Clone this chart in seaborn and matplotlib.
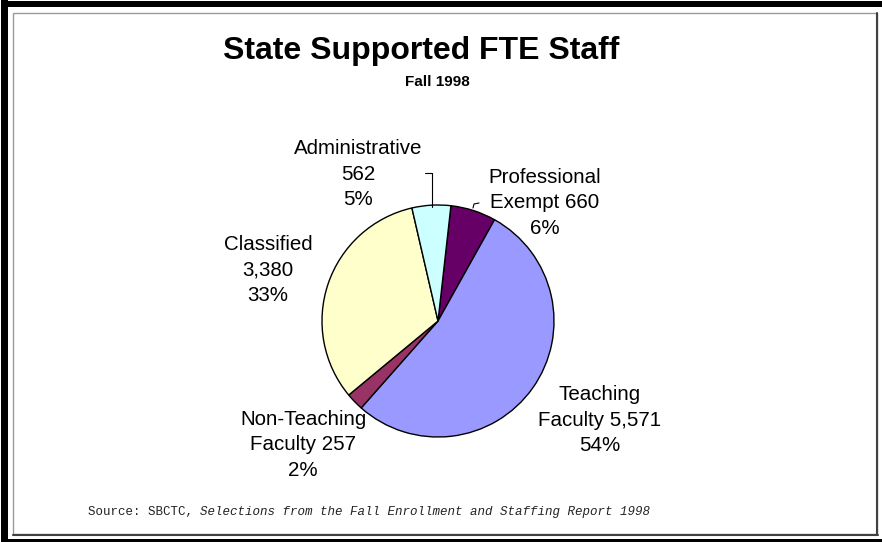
import matplotlib
matplotlib.use("Agg")
import matplotlib.pyplot as plt
from matplotlib.patches import Rectangle
import seaborn as sns

# data (clockwise from the top)
names = ["Professional\nExempt", "Teaching\nFaculty", "Non-Teaching\nFaculty", "Classified", "Administrative"]
staff = [660, 5571, 257, 3380, 562]
pcts = [6, 54, 2, 33, 5]
colors = ["#660066", "#9999FF", "#993366", "#FFFFCC", "#CCFFFF"]

W, H = 882, 542

sns.set_style("white")
plt.rcParams['font.family'] = ['Liberation Sans', 'DejaVu Sans']
plt.rcParams['text.color'] = 'black'

fig = plt.figure(figsize=(W / 100, H / 100), dpi=100)
ax = fig.add_axes([0, 0, 1, 1])

cx, cy, r = 438, H - 321, 116
wedges, _ = ax.pie(staff, colors=sns.color_palette(colors), startangle=83.6, counterclock=False,
                   radius=r, center=(cx, cy),
                   wedgeprops=dict(edgecolor="black", linewidth=1.0))
ax.set_xlim(0, W)
ax.set_ylim(0, H)
ax.set_axis_off()

# label text + where excel put it (pixel centre, y from top)
seps = [" ", " ", " ", "\n", "\n"]
label_pos = [(545, 203), (600, 420), (303, 445), (268, 270), (358, 174)]
for name, v, p, s, (lx, ly) in zip(names, staff, pcts, seps, label_pos):
    ax.text(lx, H - ly, f"{name}{s}{v:,}\n{p}%", ha="center", va="center",
            fontsize=14.8, linespacing=1.42, color="black")

# leader lines for the two small slices
ax.plot([425, 432, 432], [H - 173, H - 173, H - 207], color="black", lw=0.8)
ax.plot([473, 474, 479], [H - 208, H - 204, H - 203], color="black", lw=0.8)

# titles
ax.text(421, H - 59, "State Supported FTE Staff", ha="center", va="baseline",
        fontsize=23, fontweight="bold", color="black")
ax.text(437, H - 82, "Fall 1998", ha="center", va="center",
        fontsize=11, fontweight="bold", color="black")

# source note
t1 = ax.text(88, H - 512, "Source: SBCTC, ", ha="left", va="center",
             fontsize=9, family="Liberation Mono", color="#222222")
ax.annotate("Selections from the Fall Enrollment and Staffing Report 1998", xy=(1, 0),
            xycoords=t1, ha="left", va="bottom", fontsize=9, family="Liberation Mono",
            style="italic", color="#222222")

# chart frame
ax.add_patch(Rectangle((1, 0), 7, H, color="black", lw=0, clip_on=False))
ax.add_patch(Rectangle((1, H - 7), W - 1, 6, color="black", lw=0, clip_on=False))
ax.add_patch(Rectangle((1, 0), W - 1, 3, color="black", lw=0, clip_on=False))
ax.add_patch(Rectangle((13, H - 534), 864, 521, fill=False, edgecolor="#9a9a9a", lw=1, clip_on=False))
ax.plot([877, 877], [H - 13, H - 535], color="#404040", lw=1.5)
ax.plot([13, 878], [H - 535, H - 535], color="#404040", lw=1.5)

plt.savefig("out.png", dpi=100)
